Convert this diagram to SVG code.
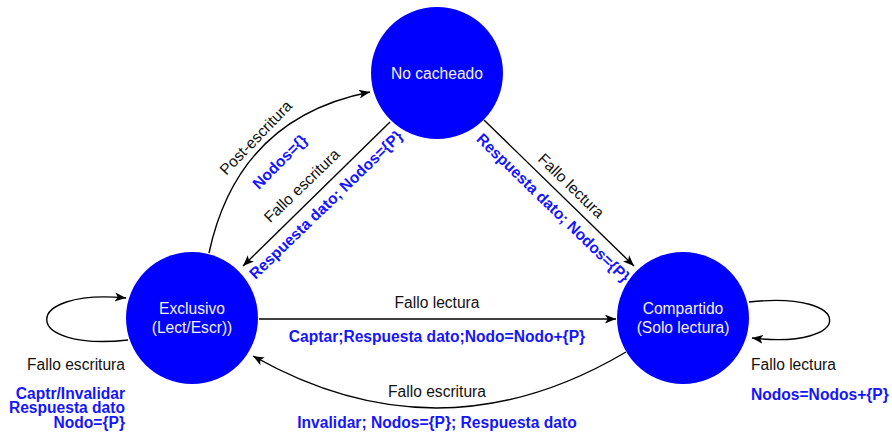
<svg xmlns="http://www.w3.org/2000/svg" width="892" height="433" viewBox="0 0 892 433">
  <defs>
    <marker id="arrow" viewBox="0 0 10 8" refX="10" refY="4" markerWidth="11" markerHeight="9" markerUnits="userSpaceOnUse" orient="auto">
      <path d="M0,0 L10,4 L0,8 L2.5,4 z" fill="#000"/>
    </marker>
  </defs>
  <style>
    .state { fill: #0000ff; }
    .state-label { font-family: "Liberation Sans", Arial, sans-serif; font-size: 15.6px; fill: #f2f2f2; text-anchor: middle; }
    .edge { fill: none; stroke: #000; stroke-width: 1.4; marker-end: url(#arrow); }
    .event { font-family: "Liberation Sans", Arial, sans-serif; font-size: 15.6px; fill: #111; }
    .action { font-family: "Liberation Sans", Arial, sans-serif; font-size: 15.6px; font-weight: bold; fill: #1515ff; }
    .mid { text-anchor: middle; }
    .end { text-anchor: end; }
  </style>

  <rect width="892" height="433" fill="#fff"/>

  <!-- transitions -->
  <g id="connectors">
    <!-- Exclusivo -> No cacheado -->
    <path class="edge" d="M209,253 Q238,118 370,92"/>
    <!-- No cacheado -> Exclusivo -->
    <path class="edge" d="M390,122 L243,266"/>
    <!-- No cacheado -> Compartido -->
    <path class="edge" d="M484,120 L634,266"/>
    <!-- Exclusivo -> Compartido -->
    <path class="edge" d="M259,319 L616,319"/>
    <!-- Compartido -> Exclusivo -->
    <path class="edge" d="M626,352 Q440,462 253,356"/>
    <!-- Exclusivo self loop -->
    <path class="edge" d="M128,340 C20,352 20,288 126,298"/>
    <!-- Compartido self loop -->
    <path class="edge" d="M749,302 C856,290 856,350 752,338"/>

    <!-- transition labels -->
    <text class="event mid" transform="translate(256,138) rotate(-46)" y="5">Post-escritura</text>
    <text class="action mid" transform="translate(280,162) rotate(-45)" y="5">Nodos={}</text>
    <text class="event mid" transform="translate(302,186) rotate(-44)" y="5">Fallo escritura</text>
    <text class="action mid" transform="translate(326,205) rotate(-44)" y="5">Respuesta dato; Nodos={P}</text>
    <text class="event mid" transform="translate(571,186) rotate(44)" y="5">Fallo lectura</text>
    <text class="action mid" transform="translate(553,208) rotate(44)" y="5">Respuesta dato; Nodos={P}</text>

    <text class="event mid" x="437" y="308">Fallo lectura</text>
    <text class="action mid" x="437" y="342">Captar;Respuesta dato;Nodo=Nodo+{P}</text>
    <text class="event mid" x="437" y="397">Fallo escritura</text>
    <text class="action mid" x="437" y="428">Invalidar; Nodos={P}; Respuesta dato</text>

    <text class="event end" x="125" y="370">Fallo escritura</text>
    <text class="action end" x="125" y="398.5">Captr/Invalidar<tspan x="125" dy="14.8">Respuesta dato</tspan><tspan x="125" dy="14.8">Nodo={P}</tspan></text>

    <text class="event" x="751" y="370">Fallo lectura</text>
    <text class="action" x="751" y="400">Nodos=Nodos+{P}</text>
  </g>

  <!-- states -->
  <g id="no-cacheado">
    <circle class="state" cx="437" cy="73" r="66"/>
    <text class="state-label" x="437" y="79">No cacheado</text>
  </g>
  <g id="exclusivo">
    <circle class="state" cx="192" cy="318" r="66"/>
    <text class="state-label" x="192" y="314">Exclusivo</text>
    <text class="state-label" x="192" y="333">(Lect/Escr))</text>
  </g>
  <g id="compartido">
    <circle class="state" cx="683" cy="318" r="66"/>
    <text class="state-label" x="683" y="314">Compartido</text>
    <text class="state-label" x="683" y="333">(Solo lectura)</text>
  </g>
</svg>
